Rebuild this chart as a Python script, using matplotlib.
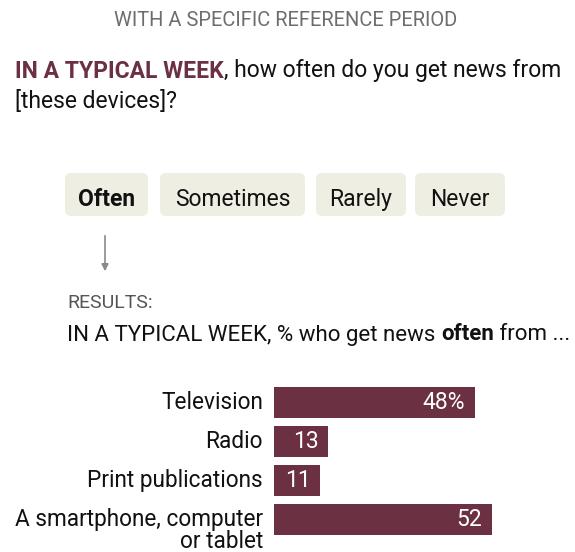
import matplotlib
matplotlib.use("Agg")
import matplotlib.pyplot as plt
from matplotlib.patches import FancyBboxPatch

plt.rcParams['font.family'] = ['Roboto', 'DejaVu Sans']

# --- data ---
answer_options = ["Often", "Sometimes", "Rarely", "Never"]
categories = ["Television", "Radio", "Print publications", "A smartphone, computer\nor tablet"]
values = [48, 13, 11, 52]
value_labels = ["48%", "13", "11", "52"]

MAROON = "#6b3042"
BUTTON = "#efeee3"
W, H = 575, 552

fig = plt.figure(figsize=(W / 100, H / 100), dpi=100)

# overlay in pixel coordinates for the header, answer buttons and arrow
ov = fig.add_axes([0, 0, 1, 1])
ov.set_xlim(0, W)
ov.set_ylim(H, 0)
ov.axis("off")

ov.text(286, 20, "WITH A SPECIFIC REFERENCE PERIOD", ha="center", va="center",
        fontsize=14.5, color="#6d6d6d")

t1 = ov.text(15, 71, "IN A TYPICAL WEEK", ha="left", va="center",
             fontsize=16.5, fontweight="bold", color=MAROON)
ov.annotate(", how often do you get news from", xy=(1, 0), xycoords=t1,
            ha="left", va="bottom", fontsize=16.5, color="#111111")
ov.text(15, 101, "[these devices]?", ha="left", va="center", fontsize=16.5, color="#111111")

# answer buttons
boxes = [(65, 148), (160, 305), (316, 406), (415, 505)]
for (x0, x1), opt in zip(boxes, answer_options):
    ov.add_patch(FancyBboxPatch((x0 + 6, 179), x1 - x0 - 12, 31,
                                boxstyle="round,pad=6", fc=BUTTON, ec="none"))
    ov.text((x0 + x1) / 2, 197, opt, ha="center", va="center_baseline", fontsize=16.5,
            fontweight="bold" if opt == "Often" else "normal", color="#111111")

ov.annotate("", xy=(105, 274), xytext=(105, 233),
            arrowprops=dict(arrowstyle="-|>", color="#8a8a8a", lw=1.2,
                            mutation_scale=10))

ov.text(67, 303, "RESULTS:", ha="left", va="center", fontsize=14, color="#555555")
r1 = ov.text(67, 335, "IN A TYPICAL WEEK, % who get news ", ha="left", va="center",
             fontsize=16, color="#111111")
r2 = ov.annotate("often", xy=(1, 0), xycoords=r1, ha="left", va="bottom",
                 fontsize=16, fontweight="bold", color="#111111")
ov.annotate(" from ...", xy=(1, 0), xycoords=r2, ha="left", va="bottom",
            fontsize=16, color="#111111")

# bar chart
left_px, unit_px = 274, 4.19
top_px, slot_px = 382.5, 39.2
ax = fig.add_axes([left_px / W, (H - top_px - 4 * slot_px) / H,
                   (W - left_px) / W, 4 * slot_px / H])
ax.set_xlim(0, (W - left_px) / unit_px)
ax.set_ylim(3.5, -0.5)
ax.axis("off")

ypos = range(len(categories))
ax.barh(ypos, values, height=0.79, color=MAROON)
for y, v, lab, cat in zip(ypos, values, value_labels, categories):
    ax.annotate(lab, xy=(v, y), xytext=(-7, 0), textcoords="offset points",
                ha="right", va="center", fontsize=16.5, color="white")
    for k, line in enumerate(cat.split("\n")):
        ax.annotate(line, xy=(0, y), xytext=(-8, -16 * k), textcoords="offset points",
                    ha="right", va="center", fontsize=16.3, color="#111111")

fig.savefig("out.png", dpi=100)
